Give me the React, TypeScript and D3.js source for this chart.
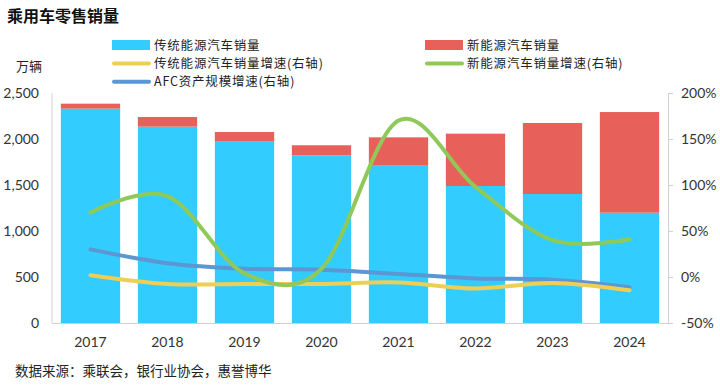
// App.tsx
import React, { useEffect, useRef } from 'react';
import * as d3 from 'd3';

const years = ['2017', '2018', '2019', '2020', '2021', '2022', '2023', '2024'];
// 万辆
const iceSales = [2330, 2134, 1971, 1822, 1717, 1489, 1402, 1199];
const nevSales = [54, 105, 105, 110, 301, 569, 772, 1094];
// %
const iceGrowth = [2, -7.5, -7.6, -7.6, -5.9, -12.5, -6.5, -14.5];
const nevGrowth = [70, 88, 4, 9, 170, 98, 40, 41];
const afcGrowth = [30, 15, 9, 8, 3.3, -1.5, -3, -11];

const leftTicks = [0, 500, 1000, 1500, 2000, 2500];
const rightTicks = [-50, 0, 50, 100, 150, 200];

const CJK = '"Noto Sans CJK SC", "Noto Sans", sans-serif';
const NUM = 'Lato, "Noto Sans", sans-serif';

const App: React.FC = () => {
  const chartRef = useRef<SVGSVGElement | null>(null);

  useEffect(() => {
    drawChart();
  }, []);

  const drawChart = () => {
    const svg = d3.select(chartRef.current);
    svg.selectAll('*').remove();

    const left = 52;
    const right = 668;
    const top = 93;
    const bottom = 323;

    const x = d3
      .scaleBand<string>()
      .domain(years)
      .range([left, right])
      .paddingInner(0.23)
      .paddingOuter(0.115);

    const yL = d3.scaleLinear().domain([0, 2500]).range([bottom, top]);
    const yR = d3.scaleLinear().domain([-50, 200]).range([bottom, top]);

    // title
    svg.append('text')
      .attr('x', 7)
      .attr('y', 22)
      .style('font-family', CJK)
      .style('font-size', '16px')
      .style('font-weight', 'bold')
      .attr('fill', '#111')
      .text('乘用车零售销量');

    // unit
    svg.append('text')
      .attr('x', 16)
      .attr('y', 71)
      .style('font-family', CJK)
      .style('font-size', '13px')
      .attr('fill', '#222')
      .text('万辆');

    // bars
    const g = svg.append('g');
    g.selectAll('rect.ice')
      .data(years)
      .enter()
      .append('rect')
      .attr('x', (d) => x(d) as number)
      .attr('width', x.bandwidth())
      .attr('y', (_, i) => yL(iceSales[i]))
      .attr('height', (_, i) => yL(0) - yL(iceSales[i]))
      .attr('fill', '#33CCFF');

    g.selectAll('rect.nev')
      .data(years)
      .enter()
      .append('rect')
      .attr('x', (d) => x(d) as number)
      .attr('width', x.bandwidth())
      .attr('y', (_, i) => yL(iceSales[i] + nevSales[i]))
      .attr('height', (_, i) => yL(iceSales[i]) - yL(iceSales[i] + nevSales[i]))
      .attr('fill', '#E8605A');

    // axes lines
    svg.append('line')
      .attr('x1', left).attr('x2', left)
      .attr('y1', top).attr('y2', bottom)
      .attr('stroke', '#d0d0d0');
    svg.append('line')
      .attr('x1', left).attr('x2', right)
      .attr('y1', bottom + 0.5).attr('y2', bottom + 0.5)
      .attr('stroke', '#d0d0d0');
    svg.append('line')
      .attr('x1', right + 0.5).attr('x2', right + 0.5)
      .attr('y1', top).attr('y2', bottom)
      .attr('stroke', '#d0d0d0');

    // left ticks
    svg.selectAll('text.lt')
      .data(leftTicks)
      .enter()
      .append('text')
      .attr('x', 39)
      .attr('y', (d) => yL(d))
      .attr('dy', '0.36em')
      .attr('text-anchor', 'end')
      .style('font-family', NUM)
      .style('font-size', '14px')
      .attr('fill', '#333')
      .text((d) => d3.format(',')(d));

    // right ticks
    svg.selectAll('line.rt')
      .data(rightTicks)
      .enter()
      .append('line')
      .attr('x1', right)
      .attr('x2', right + 5)
      .attr('y1', (d) => Math.round(yR(d)) + 0.5)
      .attr('y2', (d) => Math.round(yR(d)) + 0.5)
      .attr('stroke', '#d0d0d0');

    svg.selectAll('text.rt')
      .data(rightTicks)
      .enter()
      .append('text')
      .attr('x', 681)
      .attr('y', (d) => yR(d))
      .attr('dy', '0.36em')
      .style('font-family', NUM)
      .style('font-size', '14px')
      .attr('fill', '#333')
      .text((d) => `${d}%`);

    // x labels
    svg.selectAll('text.xl')
      .data(years)
      .enter()
      .append('text')
      .attr('x', (d) => (x(d) as number) + x.bandwidth() / 2)
      .attr('y', 347)
      .attr('text-anchor', 'middle')
      .style('font-family', NUM)
      .style('font-size', '14px')
      .attr('fill', '#333')
      .text((d) => d);

    // lines (right axis)
    const line = d3
      .line<number>()
      .x((_, i) => (x(years[i]) as number) + x.bandwidth() / 2)
      .y((d) => yR(d))
      .curve(d3.curveCardinal.tension(0));

    const series = [
      { values: afcGrowth, color: '#5B97D3' },
      { values: iceGrowth, color: '#EDCF55' },
      { values: nevGrowth, color: '#8FC95A' },
    ];

    series.forEach((s) => {
      svg.append('path')
        .datum(s.values)
        .attr('fill', 'none')
        .attr('stroke', s.color)
        .attr('stroke-width', 4)
        .attr('stroke-linecap', 'round')
        .attr('d', line);
    });

    // legend
    const legend = [
      { label: '传统能源汽车销量', color: '#33CCFF', kind: 'bar', lx: 112, ly: 45 },
      { label: '新能源汽车销量', color: '#E8605A', kind: 'bar', lx: 425, ly: 45 },
      { label: '传统能源汽车销量增速(右轴)', color: '#EDCF55', kind: 'line', lx: 112, ly: 63.4 },
      { label: '新能源汽车销量增速(右轴)', color: '#8FC95A', kind: 'line', lx: 425, ly: 63.4 },
      { label: 'AFC资产规模增速(右轴)', color: '#5B97D3', kind: 'line', lx: 112, ly: 81.8 },
    ];

    legend.forEach((l) => {
      if (l.kind === 'bar') {
        svg.append('rect')
          .attr('x', l.lx)
          .attr('y', l.ly - 5)
          .attr('width', 38)
          .attr('height', 10)
          .attr('fill', l.color);
      } else {
        svg.append('line')
          .attr('x1', l.lx + 2)
          .attr('x2', l.lx + 37)
          .attr('y1', l.ly)
          .attr('y2', l.ly)
          .attr('stroke', l.color)
          .attr('stroke-width', 4)
          .attr('stroke-linecap', 'round');
      }
      svg.append('text')
        .attr('x', l.lx + 42)
        .attr('y', l.ly)
        .attr('dy', '0.36em')
        .style('font-family', CJK)
        .style('font-size', '12.5px')
        .style('letter-spacing', '0.8px')
        .attr('fill', '#222')
        .text(l.label);
    });

    // source
    svg.append('text')
      .attr('x', 15)
      .attr('y', 376)
      .style('font-family', CJK)
      .style('font-size', '13.5px')
      .attr('fill', '#222')
      .text('数据来源：乘联会，银行业协会，惠誉博华');
  };

  return (
    <div style={{ position: 'absolute', left: 0, top: 0, width: 720, height: 386, background: '#fff' }}>
      <svg ref={chartRef} width={720} height={386}></svg>
    </div>
  );
};

export default App;
